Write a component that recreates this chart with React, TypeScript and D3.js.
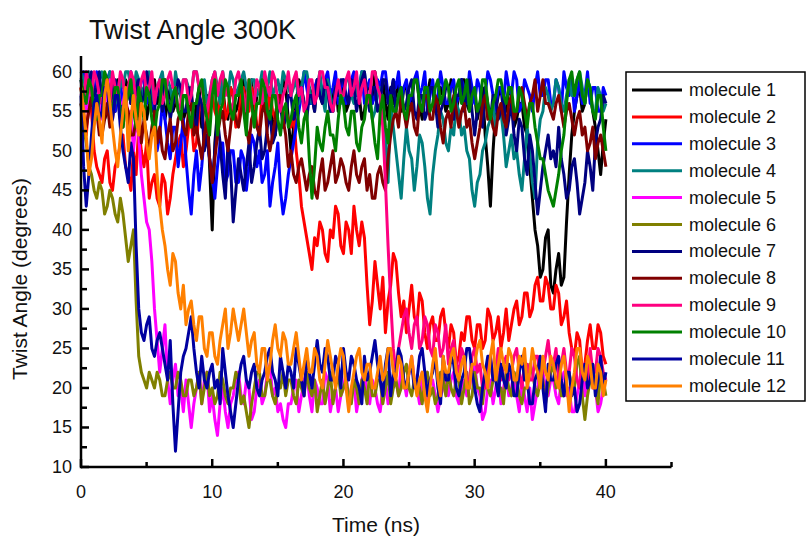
import React from "react";
import * as d3 from "d3";

// Twist angle of 12 molecules at 300 K, sampled every 0.2 ns from 0 to 40 ns.
// Each row below covers 4 ns (20 samples).
const STEP_NS = 0.2;
const TIMES = d3.range(0, 40 + 1e-6, STEP_NS);

const m1 = [
  58,55,57,59,59,56,56,58,58,54,55,58,57,55,59,57,56,59,58,56,
  57,59,55,57,58,54,56,59,59,56,57,59,54,56,58,55,56,58,57,54,
  55,57,58,53,56,58,53,56,57,48,40,51,55,57,58,55,54,58,57,55,
  56,58,59,55,57,59,54,57,58,56,55,58,57,54,52,55,56,59,58,54,
  50,53,56,59,58,56,55,58,57,55,59,57,56,59,58,55,57,59,55,57,
  58,55,56,59,59,57,57,54,55,58,58,56,60,58,57,59,56,54,58,56,
  57,59,55,58,58,55,56,59,59,56,54,57,57,59,58,55,55,58,57,55,
  56,59,58,55,57,59,59,56,55,58,57,54,56,58,52,48,43,50,55,57,
  58,55,55,58,57,53,54,56,56,53,52,48,44,40,38,34,35,39,40,33,
  32,35,37,33,34,41,47,52,55,57,58,55,56,59,57,55,53,50,47,51,
  54,
];
const m2 = [
  58,55,52,56,55,50,48,47,46,49,50,46,45,48,49,51,52,48,47,45,
  50,47,53,50,48,51,44,46,47,44,43,47,46,42,44,47,49,51,52,48,
  50,53,54,50,51,55,56,52,53,56,57,55,54,57,58,54,55,58,57,53,
  54,57,58,55,55,58,57,53,53,57,56,54,58,55,54,57,57,53,55,54,
  53,55,50,47,43,41,39,37,35,39,38,41,40,37,36,40,39,43,42,38,
  37,41,40,37,43,40,38,41,39,33,28,31,36,33,30,34,27,31,33,37,
  36,32,29,31,27,30,33,29,28,32,31,27,25,28,29,26,26,29,30,27,
  25,28,27,23,24,27,26,29,29,26,25,28,28,25,26,30,29,26,27,29,
  25,27,30,26,28,30,31,28,29,32,32,29,30,33,34,31,31,34,33,30,
  30,33,32,28,29,31,27,25,24,27,26,22,23,26,28,25,25,28,27,24,
  23,
];
const m3 = [
  59,60,57,59,58,56,60,57,56,58,59,60,57,55,58,59,55,57,57,60,
  58,55,56,59,59,56,57,58,55,50,52,56,54,51,49,53,53,48,51,54,
  49,45,42,47,50,45,48,52,52,49,47,44,48,51,51,46,47,50,50,46,
  46,50,49,45,48,52,51,48,50,46,47,50,43,46,48,51,45,42,44,47,
  49,51,53,55,57,60,58,56,56,58,59,57,57,59,60,57,58,60,56,58,
  59,56,57,59,60,57,58,60,56,58,59,56,57,59,58,60,60,57,57,59,
  58,60,56,58,59,56,57,59,60,57,58,60,55,57,59,56,57,60,58,56,
  56,58,59,56,57,59,58,56,60,58,56,59,58,55,57,60,59,57,55,58,
  58,56,60,58,57,60,59,55,56,59,58,57,55,58,60,57,57,59,59,56,
  56,59,58,55,60,58,57,59,55,57,59,56,57,60,56,58,58,55,55,58,
  57,
];
const m4 = [
  60,59,58,60,59,57,57,59,60,58,58,60,59,57,56,59,58,60,60,58,
  57,60,59,57,58,59,60,57,56,58,59,60,57,59,58,56,60,58,57,59,
  59,58,57,60,60,58,58,59,56,57,59,60,58,56,60,58,57,60,59,57,
  58,59,60,58,57,59,59,57,58,60,56,58,60,57,58,59,57,60,59,58,
  57,58,59,56,58,60,60,58,56,57,58,60,57,55,59,57,55,58,58,56,
  57,59,59,57,56,58,58,60,60,57,57,54,55,57,58,55,52,46,56,53,
  50,47,44,49,53,50,49,45,48,52,51,48,44,42,47,50,52,55,54,51,
  50,53,52,56,55,52,53,50,49,45,43,46,47,50,51,53,54,56,53,55,
  55,52,48,50,52,49,50,47,45,49,53,50,46,44,51,54,55,58,57,55,
  56,59,58,56,55,57,59,57,57,59,60,58,56,59,58,55,55,58,57,55,
  56,
];
const m5 = [
  57,58,55,57,58,55,56,58,54,56,57,59,55,57,58,56,56,58,53,55,
  50,54,52,47,44,41,40,36,30,26,22,25,28,21,18,21,23,19,20,17,
  21,18,15,18,20,22,18,21,22,17,19,16,14,18,20,17,15,18,19,21,
  22,19,18,21,20,16,17,20,21,18,19,22,23,19,20,17,18,16,15,18,
  18,20,21,17,19,21,22,19,17,21,20,18,18,22,21,17,19,20,17,19,
  20,22,18,20,21,17,19,21,22,19,18,21,20,18,17,20,21,18,19,21,
  21,19,23,21,19,22,24,21,20,18,22,19,18,21,21,19,17,19,20,22,
  19,21,22,19,18,20,21,19,20,22,23,20,19,16,17,20,21,18,20,22,
  18,20,22,19,20,22,19,17,21,19,17,20,16,18,20,23,22,20,19,21,
  21,19,18,21,22,19,20,17,17,19,21,23,19,21,23,20,20,17,18,20,
  21,
];
const m6 = [
  56,53,51,48,47,45,44,46,45,42,43,45,44,42,41,44,42,39,36,38,
  40,31,24,22,21,20,22,21,20,22,21,19,19,21,22,20,20,22,21,19,
  19,21,21,19,20,22,18,20,22,19,20,18,19,22,21,19,18,20,20,22,
  21,18,19,17,15,18,20,22,22,19,19,21,21,19,18,20,20,22,19,21,
  21,19,18,21,20,19,22,20,19,21,17,19,21,18,20,22,18,20,22,19,
  20,21,19,18,21,20,18,21,20,18,22,19,19,21,21,18,20,22,18,20,
  21,19,20,22,23,20,19,21,21,20,18,21,22,19,20,18,19,22,21,19,
  22,20,19,21,21,18,20,22,18,19,22,20,20,18,21,20,19,21,23,20,
  20,18,22,20,19,22,21,19,18,20,20,23,22,20,19,21,21,18,20,22,
  23,20,21,19,19,22,22,20,20,23,24,19,16,19,21,23,20,18,22,21,
  19,
];
const m7 = [
  59,56,57,59,60,57,58,60,56,58,59,56,57,59,58,55,55,57,58,56,
  56,58,59,56,57,60,58,55,55,58,57,55,59,57,54,56,57,59,58,55,
  55,58,57,54,53,57,56,50,52,49,46,50,54,51,47,44,51,48,41,45,
  49,47,45,48,51,46,48,51,53,49,50,53,55,51,52,55,56,53,54,57,
  57,54,55,58,58,56,54,57,57,55,59,57,56,59,58,55,55,58,57,59,
  59,57,56,59,58,55,57,59,60,57,55,58,58,55,56,59,59,56,57,59,
  55,57,58,55,56,58,59,55,54,57,57,54,55,58,58,56,53,55,56,58,
  58,56,54,57,57,59,55,57,59,55,52,55,56,53,58,56,54,57,57,54,
  55,57,52,54,56,52,50,54,53,49,47,52,50,46,42,45,48,50,52,49,
  50,48,53,49,47,44,45,48,49,46,42,44,46,50,48,45,51,53,54,57,
  56,
];
const m8 = [
  56,54,53,55,57,54,55,52,52,54,56,53,54,57,57,54,53,56,55,52,
  52,54,56,51,54,52,50,53,55,51,53,50,49,52,54,50,51,54,55,53,
  52,55,56,52,53,51,49,52,54,49,46,49,52,54,55,52,50,53,56,54,
  53,55,57,53,51,54,55,53,52,55,56,52,50,52,54,57,57,54,52,48,
  50,47,46,48,49,47,45,47,48,45,44,47,49,45,46,48,50,46,47,49,
  48,46,45,48,50,47,46,48,49,45,47,44,44,47,48,46,45,49,52,54,
  55,53,57,55,53,55,56,53,52,56,55,57,57,54,54,57,56,53,51,54,
  55,53,57,55,53,55,56,53,54,51,49,51,53,56,57,54,55,53,52,55,
  56,54,53,56,57,54,55,57,58,56,54,56,57,59,55,57,59,56,56,55,
  54,56,57,55,53,55,56,54,52,54,55,52,53,50,51,53,49,51,52,50,
  48,
];
const m9 = [
  58,56,60,58,57,60,59,57,56,59,58,56,60,58,57,60,59,56,58,60,
  59,56,57,59,60,57,58,60,56,58,59,56,57,59,60,58,58,55,56,59,
  59,56,57,60,60,58,58,56,55,57,59,60,57,59,60,57,58,55,56,59,
  60,58,57,55,59,57,56,59,58,56,60,58,57,60,59,56,55,57,58,60,
  57,59,60,57,58,55,56,59,59,56,57,60,60,58,58,56,55,57,59,57,
  57,59,60,57,58,60,56,58,59,56,57,60,60,58,57,53,46,38,31,25,
  22,25,27,29,30,27,25,28,29,25,26,29,28,25,24,28,27,24,25,28,
  23,25,26,23,22,25,24,21,21,24,25,22,23,20,20,23,24,21,22,25,
  21,23,24,21,22,24,25,22,20,23,23,21,21,24,24,21,22,24,26,23,
  23,25,21,23,25,22,22,25,24,21,20,23,23,21,25,22,22,25,24,22,
  21,
];
const m10 = [
  59,57,56,59,58,55,54,57,57,60,59,56,55,58,58,55,53,56,57,59,
  55,53,58,56,54,58,57,54,52,55,56,59,59,56,55,57,58,55,54,57,
  57,55,53,56,56,58,59,56,54,52,57,59,52,55,56,59,58,55,54,57,
  57,59,55,52,59,56,53,56,56,59,58,55,54,57,57,54,52,55,56,53,
  54,56,57,53,51,54,55,49,44,48,53,51,50,53,55,52,52,50,54,57,
  56,53,52,55,55,51,50,53,54,57,57,54,51,49,55,57,53,51,57,55,
  55,57,58,55,54,57,57,59,59,56,55,58,58,55,56,58,59,56,57,59,
  58,55,56,58,59,56,57,59,55,57,58,55,56,59,59,56,54,56,57,59,
  59,57,56,58,58,55,55,58,57,55,53,56,56,53,51,49,49,47,45,44,
  43,45,47,50,52,56,59,60,57,59,60,57,56,59,58,55,54,57,57,53,
  50,
];
const m11 = [
  57,48,43,47,52,56,57,54,55,58,58,55,54,57,57,53,50,48,46,51,
  49,38,30,27,26,28,29,25,24,26,27,25,23,21,26,18,12,17,22,24,
  25,27,29,25,22,20,24,21,20,22,23,20,21,18,25,22,19,17,15,18,
  21,23,24,21,20,22,23,20,19,21,22,24,25,22,21,19,24,22,20,23,
  22,20,25,23,21,19,24,22,20,23,26,23,22,25,24,21,21,24,23,20,
  25,22,21,24,23,21,20,18,24,21,22,24,26,23,21,19,23,25,19,22,
  22,25,24,21,20,22,23,20,21,24,25,22,19,21,22,24,20,18,24,21,
  21,24,23,20,19,21,22,25,25,22,20,18,17,20,22,24,24,21,21,19,
  23,21,20,23,22,19,19,22,24,21,21,18,18,21,22,24,20,17,23,21,
  21,23,24,21,19,22,22,19,20,17,18,21,23,20,21,23,19,21,24,20,
  22,
];
const m12 = [
  58,55,52,47,49,53,56,54,51,57,59,56,53,50,48,52,55,58,50,54,
  57,54,52,56,55,51,49,52,53,47,43,40,38,35,33,37,36,32,30,33,
  28,30,31,28,26,29,29,25,24,27,27,24,23,26,28,30,25,27,30,28,
  26,28,30,27,24,26,27,23,22,25,25,21,23,26,28,25,24,27,26,23,
  23,25,27,24,21,23,25,22,22,25,24,21,20,23,26,24,22,20,23,25,
  24,20,17,20,22,24,25,22,21,23,23,20,20,22,24,21,22,25,25,22,
  21,24,23,20,20,22,24,21,19,21,22,19,17,20,23,25,21,19,24,22,
  22,24,25,22,21,23,24,20,20,23,23,25,26,23,22,20,24,26,21,23,
  25,23,22,25,24,21,21,24,23,25,20,22,25,23,22,20,24,22,21,24,
  23,21,20,23,24,21,17,20,22,25,25,22,21,24,23,20,20,23,22,19,
  21,
];

const SERIES_NAMES = [
  "molecule 1", "molecule 2", "molecule 3", "molecule 4",
  "molecule 5", "molecule 6", "molecule 7", "molecule 8",
  "molecule 9", "molecule 10", "molecule 11", "molecule 12",
];
const SERIES_VALUES = [m1, m2, m3, m4, m5, m6, m7, m8, m9, m10, m11, m12];
const SERIES_COLORS = [
  "#000000", "#FF0000", "#0000FF", "#008080",
  "#FF00FF", "#808000", "#000080", "#800000",
  "#FF0080", "#008000", "#0000A0", "#FF8000",
];

const X_TICKS = [0, 10, 20, 30, 40];
const X_MINOR = [5, 15, 25, 35, 45];
const Y_TICKS = [10, 15, 20, 25, 30, 35, 40, 45, 50, 55, 60];
const Y_MINOR = [12.5, 17.5, 22.5, 27.5, 32.5, 37.5, 42.5, 47.5, 52.5, 57.5];

const FONT = "'Liberation Sans', Arial, Helvetica, sans-serif";

export default function App() {
  const width = 806;
  const height = 538;

  const x = d3.scaleLinear().domain([0, 45]).range([81, 671.5]);
  const y = d3.scaleLinear().domain([10, 62]).range([467, 56]);

  const line = d3
    .line<number>()
    .x((_, i) => x(TIMES[i]))
    .y((v) => y(v));

  const legendX = 626;
  const legendY = 72;
  const legendW = 179;
  const legendH = 329;
  const rowH = 26.9;

  return (
    <svg
      width={width}
      height={height}
      style={{ position: "absolute", left: 0, top: 0, background: "#fff" }}
      fontFamily={FONT}
    >
      <rect width={width} height={height} fill="#fff" />

      {/* title */}
      <text x={89} y={39} fontSize={27} fill="#111">
        Twist Angle 300K
      </text>

      {/* series */}
      <g fill="none" strokeWidth={3} strokeLinejoin="round">
        {SERIES_VALUES.map((vals, k) => (
          <path key={k} d={line(vals) || ""} stroke={SERIES_COLORS[k]} />
        ))}
      </g>

      {/* axes */}
      <g stroke="#000" strokeWidth={2.5}>
        <line x1={x(0)} x2={x(45)} y1={y(10)} y2={y(10)} />
        <line x1={x(0)} x2={x(0)} y1={y(10) + 1.2} y2={y(62)} />
        {X_TICKS.map((t) => (
          <line key={"xt" + t} x1={x(t)} x2={x(t)} y1={y(10)} y2={y(10) - 8} />
        ))}
        {X_MINOR.map((t) => (
          <line key={"xm" + t} x1={x(t)} x2={x(t)} y1={y(10)} y2={y(10) - 5} />
        ))}
        {Y_TICKS.map((t) => (
          <line key={"yt" + t} x1={x(0)} x2={x(0) + 8} y1={y(t)} y2={y(t)} />
        ))}
        {Y_MINOR.map((t) => (
          <line key={"ym" + t} x1={x(0)} x2={x(0) + 6} y1={y(t)} y2={y(t)} />
        ))}
      </g>

      <g fontSize={18} fill="#111">
        {X_TICKS.map((t) => (
          <text key={"xl" + t} x={x(t)} y={y(10) + 31} textAnchor="middle">
            {t}
          </text>
        ))}
        {Y_TICKS.map((t) => (
          <text
            key={"yl" + t}
            x={x(0) - 9}
            y={y(t)}
            textAnchor="end"
            dominantBaseline="central"
          >
            {t}
          </text>
        ))}
      </g>

      <text x={376} y={532} fontSize={21} textAnchor="middle" fill="#111">
        Time (ns)
      </text>
      <text
        transform={`translate(27, ${279}) rotate(-90)`}
        fontSize={21}
        textAnchor="middle"
        fill="#111"
      >
        Twist Angle (degrees)
      </text>

      {/* legend */}
      <rect
        x={legendX}
        y={legendY}
        width={legendW}
        height={legendH}
        fill="#fff"
        stroke="#000"
        strokeWidth={1.5}
      />
      {SERIES_NAMES.map((name, k) => {
        const cy = legendY + 18 + k * rowH;
        return (
          <g key={name}>
            <line
              x1={legendX + 6}
              x2={legendX + 56}
              y1={cy}
              y2={cy}
              stroke={SERIES_COLORS[k]}
              strokeWidth={3}
            />
            <text
              x={legendX + 63}
              y={cy}
              fontSize={18}
              dominantBaseline="central"
              fill="#111"
            >
              {name}
            </text>
          </g>
        );
      })}
    </svg>
  );
}
